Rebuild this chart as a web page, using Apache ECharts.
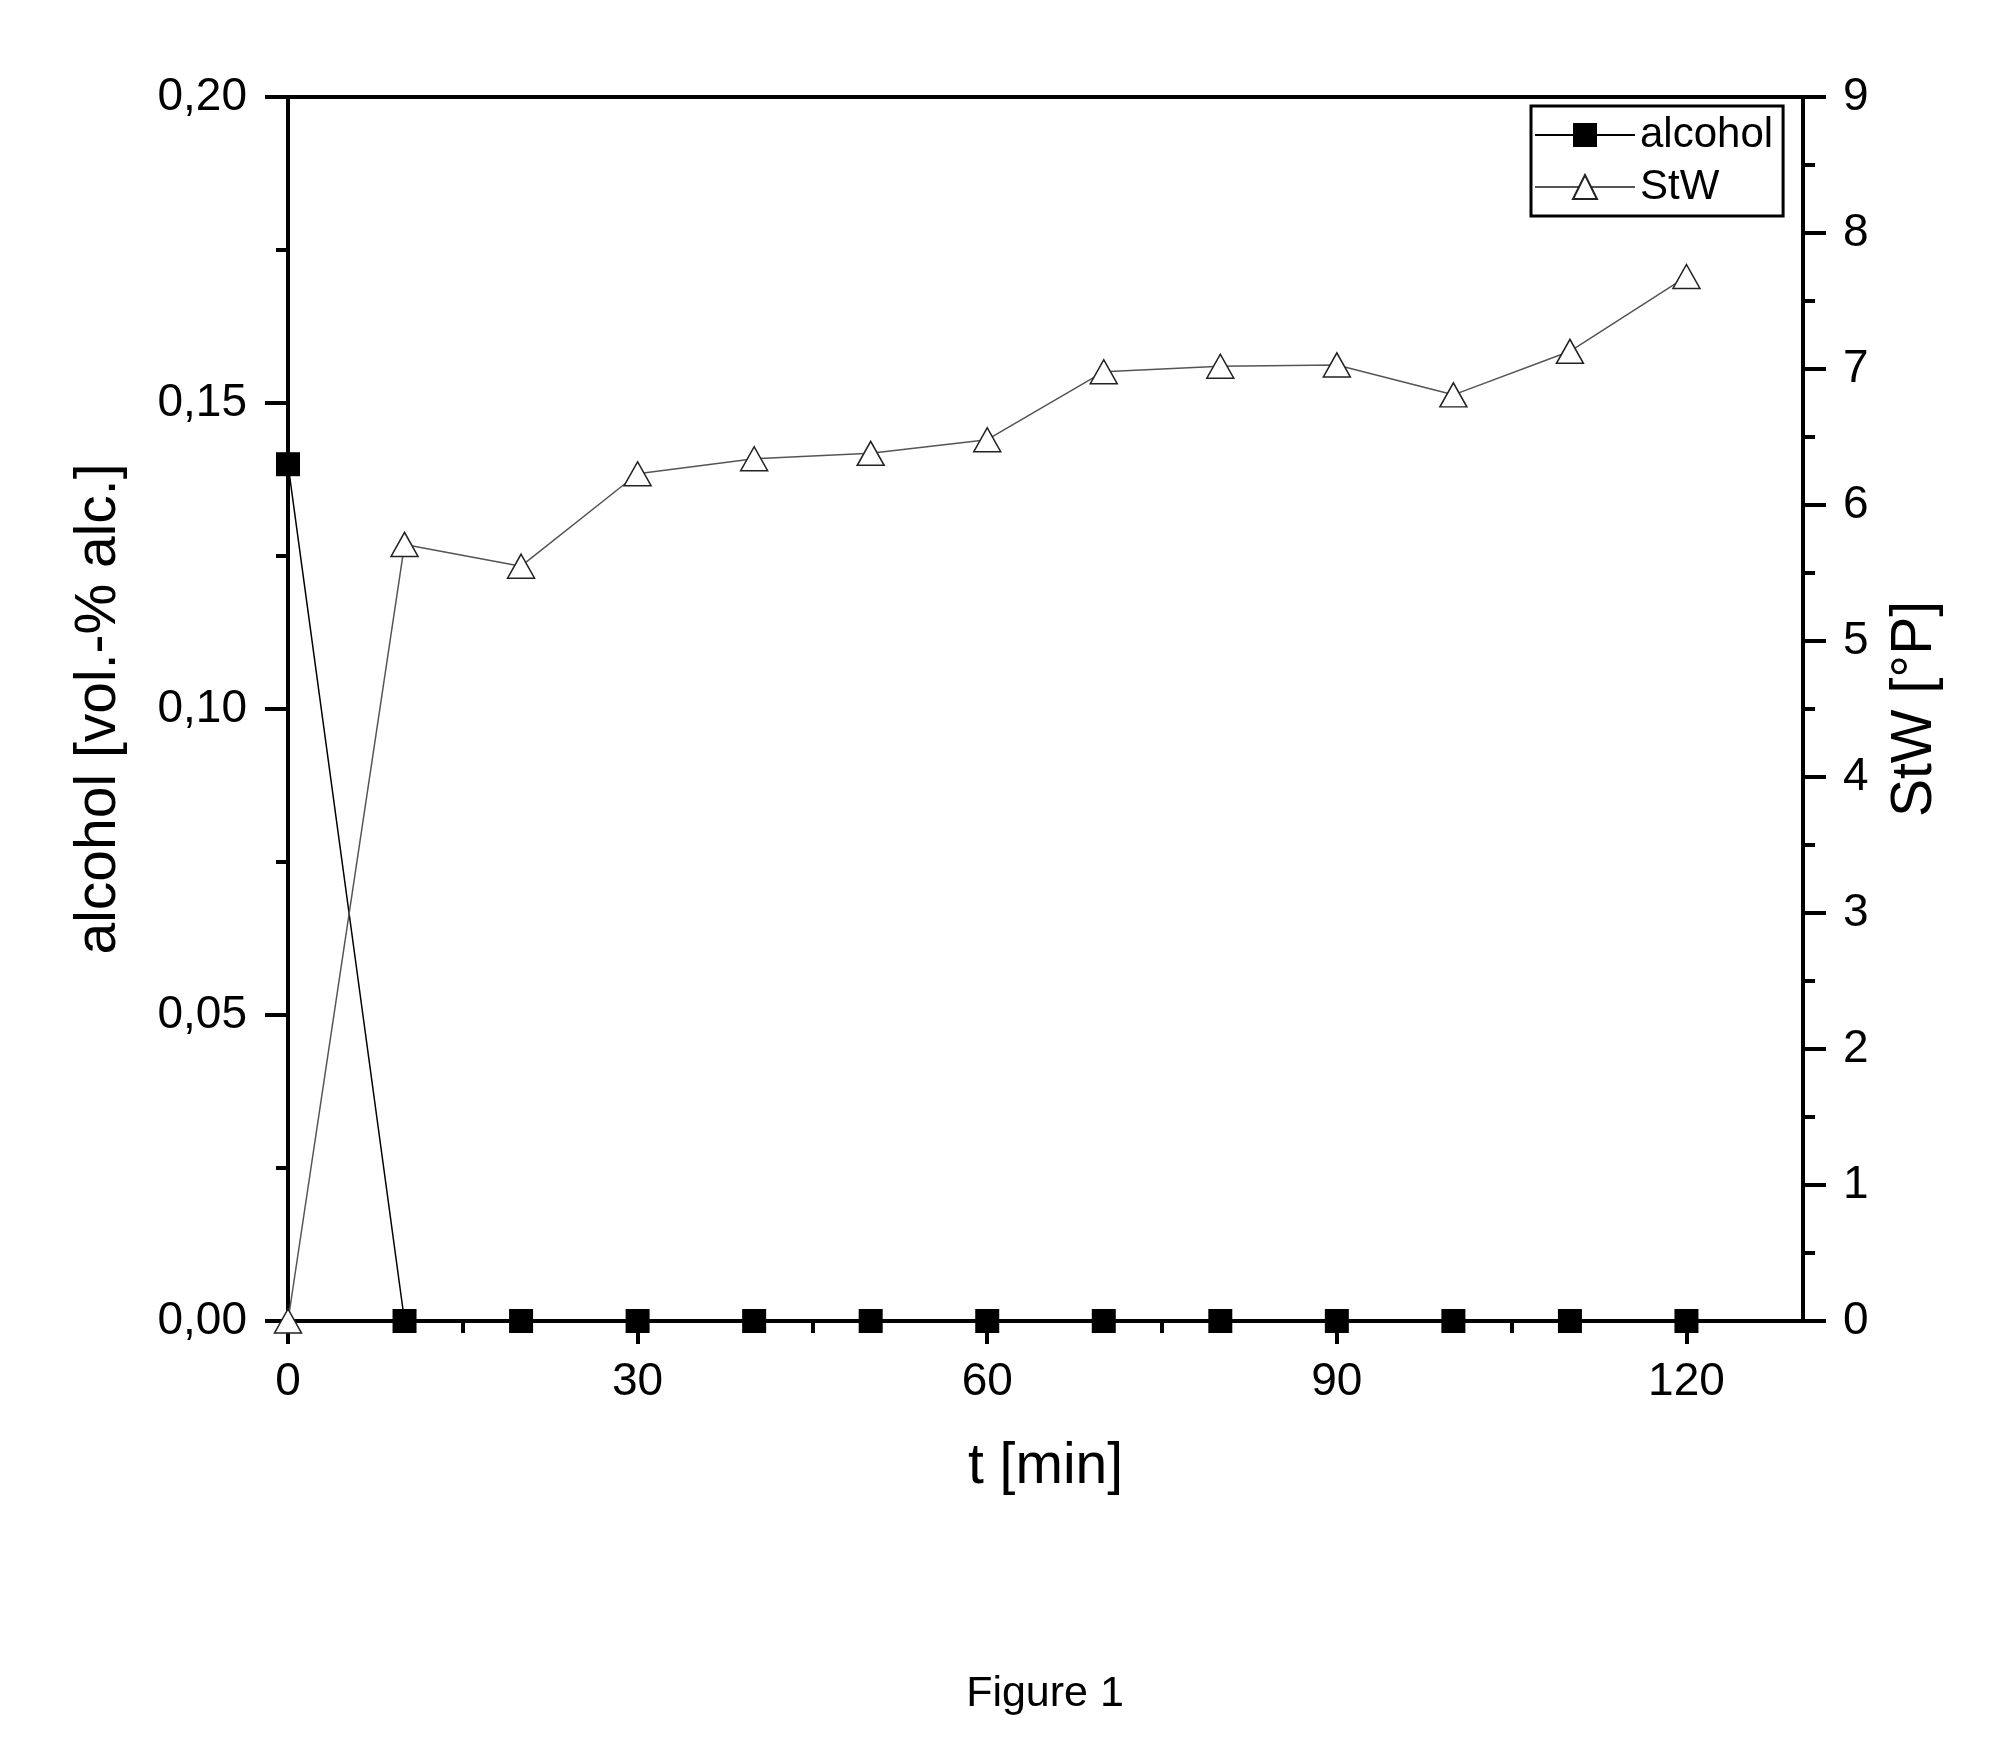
<!DOCTYPE html>
<html>
<head>
<meta charset="utf-8">
<script src="https://cdn.jsdelivr.net/npm/echarts@6/dist/echarts.min.js"></script>
<style>
  html, body { margin: 0; padding: 0; background: #fff; }
  #chart { width: 2011px; height: 1750px; }
</style>
</head>
<body>
<div id="chart"></div>
<script>
// time points [min]
const times = [0, 10, 20, 30, 40, 50, 60, 70, 80, 90, 100, 110, 120];
// alcohol [vol.-% alc.]
const alcohol = [0.14, 0, 0, 0, 0, 0, 0, 0, 0, 0, 0, 0, 0];
// StW [°P]
const stw = [0, 5.71, 5.55, 6.23, 6.34, 6.38, 6.48, 6.98, 7.02, 7.03, 6.81, 7.13, 7.68];
const xMajorTicks = [0, 30, 60, 90, 120];
const xMinorTicks = [15, 45, 75, 105];

const FONT = 'Liberation Sans';
const chart = echarts.init(document.getElementById('chart'), null, { renderer: 'canvas' });

const toPairs = (ys) => times.map((t, i) => [t, ys[i]]);

chart.setOption({
  backgroundColor: '#fff',
  animation: false,
  textStyle: { fontFamily: FONT, color: '#000' },
  title: {
    text: 'Figure 1',
    left: 1040,
    textAlign: 'center',
    top: 1668,
    textStyle: { fontFamily: FONT, fontSize: 43, fontWeight: 'normal', color: '#000' },
  },
  grid: {
    left: 288, right: 208, top: 97, bottom: 429,
    show: true, borderColor: '#000', borderWidth: 4, backgroundColor: 'transparent',
  },
  legend: {
    orient: 'vertical',
    left: 1531,
    top: 106,
    padding: [8, 10, 8, 3],
    itemWidth: 100,
    itemHeight: 30,
    itemGap: 10,
    borderColor: '#000',
    borderWidth: 3,
    textStyle: { fontFamily: FONT, fontSize: 42, lineHeight: 42, color: '#000' },
    data: ['alcohol', 'StW'],
  },
  xAxis: [
    {
      type: 'value', min: 0, max: 130,
      name: 't [min]', nameLocation: 'middle', nameGap: 118,
      nameTextStyle: { fontFamily: FONT, fontSize: 57, color: '#000' },
      axisLine: { onZero: false, lineStyle: { color: '#000', width: 4 } },
      axisTick: { length: 23, lineStyle: { color: '#000', width: 4 }, customValues: xMajorTicks },
      axisLabel: { fontFamily: FONT, fontSize: 46, color: '#000', margin: 38, customValues: xMajorTicks },
      splitLine: { show: false },
    },
    {
      type: 'value', min: 0, max: 130, position: 'bottom',
      axisLine: { show: false, onZero: false },
      axisTick: { length: 12, lineStyle: { color: '#000', width: 4 }, customValues: xMinorTicks },
      axisLabel: { show: false },
      splitLine: { show: false },
    },
  ],
  yAxis: [
    {
      type: 'value', min: 0, max: 0.2, interval: 0.05, position: 'left',
      name: 'alcohol [vol.-% alc.]', nameLocation: 'middle', nameGap: 160,
      nameTextStyle: { fontFamily: FONT, fontSize: 57, color: '#000' },
      axisLine: { show: true, onZero: false, lineStyle: { color: '#000', width: 4 } },
      axisTick: { show: true, length: 23, lineStyle: { color: '#000', width: 4 } },
      minorTick: { show: true, splitNumber: 2, length: 12, lineStyle: { color: '#000', width: 4 } },
      axisLabel: {
        fontFamily: FONT, fontSize: 46, color: '#000', margin: 41,
        formatter: (v) => v.toFixed(2).replace('.', ','),
      },
      splitLine: { show: false },
    },
    {
      type: 'value', min: 0, max: 9, interval: 1, position: 'right',
      name: 'StW [°P]', nameLocation: 'middle', nameGap: 84,
      nameTextStyle: { fontFamily: FONT, fontSize: 57, color: '#000' },
      axisLine: { show: true, onZero: false, lineStyle: { color: '#000', width: 4 } },
      axisTick: { show: true, length: 23, lineStyle: { color: '#000', width: 4 } },
      minorTick: { show: true, splitNumber: 2, length: 12, lineStyle: { color: '#000', width: 4 } },
      axisLabel: { fontFamily: FONT, fontSize: 46, color: '#000', margin: 40 },
      splitLine: { show: false },
    },
  ],
  series: [
    {
      name: 'alcohol',
      type: 'line',
      yAxisIndex: 0,
      data: toPairs(alcohol),
      symbol: 'rect',
      symbolSize: 24,
      itemStyle: { color: '#000' },
      lineStyle: { color: '#000', width: 1.5 },
      z: 3,
    },
    {
      name: 'StW',
      type: 'line',
      yAxisIndex: 1,
      data: toPairs(stw),
      symbol: 'triangle',
      symbolSize: [27, 24],
      itemStyle: { color: '#fff', borderColor: '#222', borderWidth: 1.5 },
      lineStyle: { color: '#555', width: 1.5 },
      z: 4,
    },
  ],
});
</script>
</body>
</html>
